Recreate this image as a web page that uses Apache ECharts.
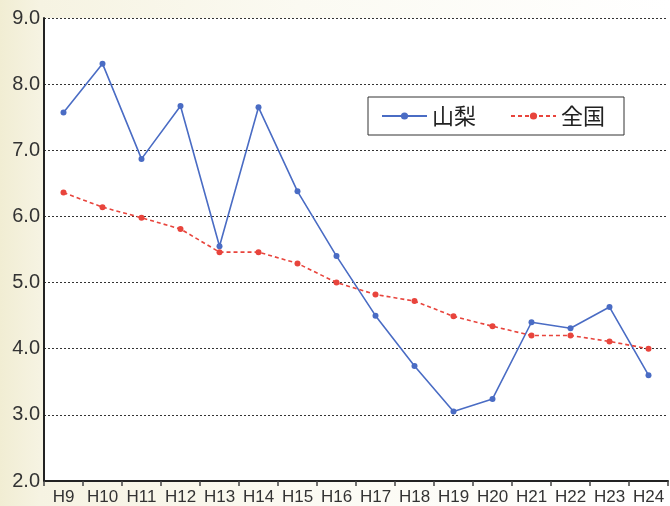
<!DOCTYPE html>
<html>
<head>
<meta charset="utf-8">
<script src="https://cdn.jsdelivr.net/npm/echarts@6/dist/echarts.min.js"></script>
<style>
html,body{margin:0;padding:0;}
body{width:670px;height:506px;background:linear-gradient(to right,#f1edd3 0px,#f6f3e2 40px,#fbfaf2 300px,#ffffff 670px);}
#chart{width:670px;height:506px;}
</style>
</head>
<body>
<div id="chart"></div>
<script>
const categories = ['H9','H10','H11','H12','H13','H14','H15','H16','H17','H18','H19','H20','H21','H22','H23','H24'];
const yamanashi = [7.57,8.31,6.87,7.67,5.55,7.65,6.38,5.40,4.50,3.74,3.05,3.24,4.40,4.31,4.63,3.60];
const zenkoku = [6.36,6.14,5.98,5.81,5.46,5.46,5.29,5.00,4.82,4.72,4.49,4.34,4.20,4.20,4.11,4.00];
const seriesNames = ['山梨','全国'];

const chart = echarts.init(document.getElementById('chart'), null, {renderer:'canvas'});
chart.setOption({
  backgroundColor: 'transparent',
  animation: false,
  grid: {left: 44, right: 2, top: 18, bottom: 25, show: true, backgroundColor: '#ffffff', borderWidth: 0},
  legend: {
    left: 368, top: 97,
    borderColor: '#333', borderWidth: 1,
    backgroundColor: '#ffffff',
    padding: [8, 19, 8, 13],
    itemWidth: 45, itemHeight: 9, itemGap: 34,
    textStyle: {fontSize: 22, color: '#222', fontFamily: 'Noto Sans CJK JP'},
    data: seriesNames
  },
  xAxis: {
    type: 'category',
    data: categories,
    boundaryGap: true,
    axisLine: {lineStyle: {color: '#222', width: 2}},
    axisTick: {show: true, alignWithLabel: false, length: 5, lineStyle: {color: '#444', width: 1.5}},
    axisLabel: {color: '#333', fontSize: 17, fontFamily: 'Liberation Sans', margin: 8, interval: 0},
    splitLine: {show: false}
  },
  yAxis: {
    type: 'value',
    min: 2, max: 9, interval: 1,
    axisLine: {show: true, lineStyle: {color: '#222', width: 2}},
    axisTick: {show: false},
    axisLabel: {color: '#333', fontSize: 20, fontFamily: 'Liberation Sans', margin: 4,
      formatter: v => v.toFixed(1)},
    splitLine: {show: true, lineStyle: {color: '#333', width: 1, type: [2, 2]}}
  },
  series: [
    {
      name: seriesNames[0], type: 'line', data: yamanashi,
      symbol: 'circle', symbolSize: 6,
      itemStyle: {color: '#4a6cc4'},
      lineStyle: {color: '#4a6cc4', width: 1.6}
    },
    {
      name: seriesNames[1], type: 'line', data: zenkoku,
      symbol: 'circle', symbolSize: 6,
      itemStyle: {color: '#e8443c'},
      lineStyle: {color: '#e8443c', width: 1.6, type: [4, 3]}
    }
  ]
});
</script>
</body>
</html>
